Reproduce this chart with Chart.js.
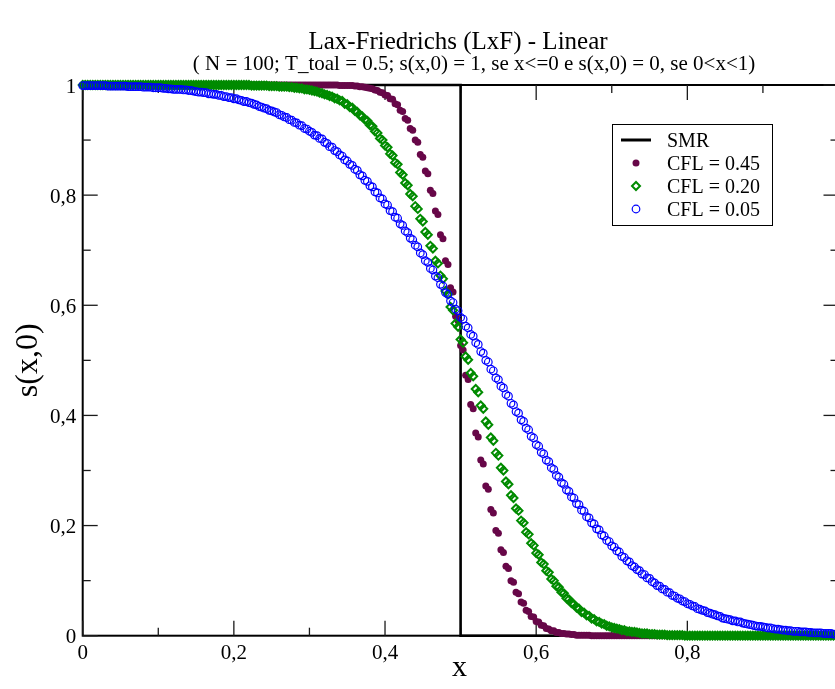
<!DOCTYPE html>
<html>
<head>
<meta charset="utf-8">
<title>Lax-Friedrichs (LxF) - Linear</title>
<script src="https://cdn.jsdelivr.net/npm/chart.js@4.4.1/dist/chart.umd.min.js"></script>
<style>
  html, body { margin: 0; padding: 0; background: #fff; overflow: hidden; }
  #wrap { width: 845px; height: 689px; }
</style>
</head>
<body>
<div id="wrap"><canvas id="chart" width="845" height="689"></canvas></div>
<script>
// Mesh: 301 nodes on [0, 1]
const NODES = 301;
const DX = 1 / 300;
const gridX = Array.from({ length: NODES }, (_, i) => i * DX);

// Exact solution (SMR): shifted step
const smrX = [0, 0.5, 0.5, 1];
const smrY = [1, 1, 0, 0];

// Lax-Friedrichs, CFL = 0.45
const cfl045 = [
  1,1,1,1,1,1,1,1,1,1,
  1,1,1,1,1,1,1,1,1,1,
  1,1,1,1,1,1,1,1,1,1,
  1,1,1,1,1,1,1,1,1,1,
  1,1,1,1,1,1,1,1,1,1,
  1,1,1,1,1,1,1,1,1,1,
  1,1,1,1,1,1,1,1,1,1,
  1,1,1,1,1,1,1,1,1,1,
  1,1,1,1,1,1,1,1,1,1,
  1,1,1,1,1,1,1,1,1,1,
  1,1,.999,.999,.999,.999,.999,.999,.998,.998,
  .997,.997,.996,.995,.994,.993,.991,.990,.987,.986,
  .982,.981,.975,.974,.966,.964,.954,.952,.939,.936,
  .921,.918,.900,.896,.874,.869,.844,.839,.809,.803,
  .771,.765,.728,.721,.681,.674,.632,.624,.580,.572,
  .527,.519,.473,.465,.420,.412,.368,.361,.319,.312,
  .272,.266,.229,.223,.191,.186,.156,.151,.126,.122,
  .100,.097,.079,.076,.061,.059,.046,.044,.035,.034,
  .026,.025,.019,.018,.013,.012,.009,.009,.006,.006,
  .004,.004,.003,.003,.002,.002,.001,.001,.001,.001,
  .001,.001,
  0,0,0,0,0,0,0,0,0,0,
  0,0,0,0,0,0,0,0,0,0,
  0,0,0,0,0,0,0,0,0,0,
  0,0,0,0,0,0,0,0,0,0,
  0,0,0,0,0,0,0,0,0,0,
  0,0,0,0,0,0,0,0,0,0,
  0,0,0,0,0,0,0,0,0,0,
  0,0,0,0,0,0,0,0,0,0,
  0,0,0,0,0,0,0,0,0,0,
  0,0,0,0,0,0,0,0,0
];

// Lax-Friedrichs, CFL = 0.20
const cfl020 = [
  1,1,1,1,1,1,1,1,1,1,
  1,1,1,1,1,1,1,1,1,1,
  1,1,1,1,1,1,1,1,1,1,
  1,1,1,1,1,1,1,1,1,1,
  1,1,1,1,1,1,1,1,1,1,
  1,1,1,1,1,1,1,1,1,1,
  1,1,1,1,
  1,1,1,.999,.999,.999,.999,.999,.999,.999,
  .998,.998,.998,.998,.997,.997,.997,.997,.996,.996,
  .995,.995,.994,.994,.992,.992,.991,.990,.989,.988,
  .986,.985,.983,.982,.980,.979,.976,.975,.972,.971,
  .966,.965,.960,.959,.953,.951,.945,.943,.937,.935,
  .927,.925,.916,.913,.903,.900,.890,.887,.875,.872,
  .859,.856,.841,.837,.822,.818,.802,.798,.780,.775,
  .757,.752,.733,.728,.708,.703,.681,.676,.654,.648,
  .626,.620,.597,.591,.567,.561,.538,.532,.507,.501,
  .477,.471,.448,.442,.418,.412,.389,.383,.360,.354,
  .332,.327,.305,.300,.280,.275,.255,.250,.231,.227,
  .209,.205,.188,.184,.168,.164,.150,.147,.133,.130,
  .118,.115,.103,.100,.090,.088,.079,.077,.068,.066,
  .059,.057,.051,.049,.043,.042,.037,.036,.031,.030,
  .026,.025,.022,.021,.018,.017,.015,.014,.013,.012,
  .010,.010,.008,.008,.007,.007,.006,.005,.004,.004,
  .004,.003,.003,.003,.002,.002,.002,.002,.001,.001,
  .001,.001,.001,.001,.001,0,
  0,0,0,0,0,0,0,0,0,0,
  0,0,0,0,0,0,0,0,0,0,
  0,0,0,0,0,0,0,0,0,0,
  0,0,0,0,0,0,0,0,0,0,
  0,0,0,0,0,0,0,0,0,0,
  0,0,0,0,0,0,0,0,0,0,
  0
];

// Lax-Friedrichs, CFL = 0.05
const cfl005 = [
  .999,.999,.999,.999,.999,.999,.999,.999,.999,.999,
  .998,.998,.998,.998,.998,.998,.998,.998,.997,.997,
  .997,.997,.997,.997,.996,.996,.996,.996,.995,.995,
  .995,.995,.994,.994,.993,.993,.992,.992,.992,.992,
  .991,.991,.990,.990,.989,.988,.987,.987,.986,.986,
  .984,.984,.983,.983,.981,.981,.979,.979,.977,.977,
  .975,.975,.973,.972,.970,.970,.968,.967,.965,.964,
  .961,.960,.958,.957,.954,.953,.951,.950,.946,.945,
  .942,.941,.937,.936,.932,.931,.927,.926,.921,.920,
  .916,.914,.909,.908,.903,.902,.896,.894,.888,.887,
  .881,.879,.873,.871,.864,.862,.856,.854,.847,.845,
  .837,.835,.827,.825,.817,.815,.806,.804,.795,.793,
  .784,.782,.772,.770,.760,.758,.748,.745,.735,.732,
  .722,.719,.709,.706,.695,.692,.681,.678,.667,.664,
  .653,.650,.638,.635,.623,.620,.608,.605,.593,.590,
  .578,.575,.562,.559,.547,.544,.532,.529,.516,.513,
  .500,.497,.484,.481,.468,.465,.453,.450,.438,.435,
  .422,.419,.407,.404,.392,.389,.377,.374,.362,.359,
  .347,.344,.333,.330,.319,.316,.305,.302,.291,.288,
  .278,.275,.265,.262,.252,.250,.240,.238,.228,.226,
  .216,.214,.205,.203,.194,.192,.183,.181,.173,.171,
  .163,.161,.154,.152,.144,.142,.136,.134,.127,.125,
  .120,.118,.112,.111,.105,.104,.098,.096,.091,.090,
  .085,.084,.079,.078,.073,.072,.068,.067,.063,.062,
  .058,.057,.054,.053,.049,.048,.046,.045,.042,.041,
  .039,.038,.036,.035,.032,.031,.030,.029,.027,.027,
  .025,.025,.023,.022,.021,.020,.019,.018,.017,.017,
  .016,.015,.014,.014,.013,.012,.012,.011,.010,.010,
  .009,.009,.008,.008,.008,.007,.007,.007,.006,.006,
  .005,.005,.005,.005,.004,.004,.004,.004,.003,.003,
  .003
];

// Axis ticks
const majorTicks = [0, 0.2, 0.4, 0.6, 0.8, 1];
const minorTicks = [0.1, 0.3, 0.5, 0.7, 0.9];
const xTickLabels = ['0', '0,2', '0,4', '0,6', '0,8', '1'];
const yTickLabels = ['0', '0,2', '0,4', '0,6', '0,8', '1'];

// Texts
const titleText = 'Lax-Friedrichs (LxF) - Linear';
const subtitleText = '( N = 100; T_toal = 0.5; s(x,0) = 1, se x<=0 e s(x,0) = 0, se 0<x<1)';
const xTitle = 'x';
const yTitle = 's(x,0)';
const seriesNames = ['SMR', 'CFL = 0.45', 'CFL = 0.20', 'CFL = 0.05'];

const SERIF = '"Liberation Serif", "Times New Roman", Times, serif';
const MAROON = 'rgb(103,7,72)';
const GREEN = 'rgb(0,139,0)';
const BLUE = 'rgb(0,0,255)';

const toPoints = (xs, ys) => ys.map((y, i) => ({ x: xs[i], y }));

const datasets = [
  {
    label: seriesNames[0],
    data: toPoints(smrX, smrY),
    showLine: true,
    borderColor: '#000',
    borderWidth: 2.6,
    pointRadius: 0,
    order: 4,
    clip: false
  },
  {
    label: seriesNames[1],
    data: toPoints(gridX, cfl045),
    pointStyle: 'circle',
    pointRadius: 3.5,
    backgroundColor: MAROON,
    borderColor: MAROON,
    borderWidth: 0,
    order: 3,
    clip: false
  },
  {
    label: seriesNames[2],
    data: toPoints(gridX, cfl020),
    pointStyle: 'rectRot',
    pointRadius: 4,
    backgroundColor: 'rgba(0,0,0,0)',
    borderColor: GREEN,
    borderWidth: 2,
    order: 2,
    clip: false
  },
  {
    label: seriesNames[3],
    data: toPoints(gridX, cfl005),
    pointStyle: 'circle',
    pointRadius: 3.8,
    backgroundColor: 'rgba(0,0,0,0)',
    borderColor: BLUE,
    borderWidth: 1.2,
    order: 1,
    clip: false
  }
];

function line(ctx, x1, y1, x2, y2) {
  ctx.beginPath();
  ctx.moveTo(x1, y1);
  ctx.lineTo(x2, y2);
  ctx.stroke();
}

// Frame with inward ticks on all four sides, labels, titles and legend box
const decorations = {
  id: 'decorations',
  beforeDraw(chart) {
    const ctx = chart.ctx;
    ctx.save();
    ctx.fillStyle = '#fff';
    ctx.fillRect(0, 0, chart.width, chart.height);
    ctx.restore();
  },
  beforeDatasetsDraw(chart) {
    const { ctx, chartArea: a, scales: { x, y } } = chart;
    ctx.save();
    ctx.strokeStyle = '#000';
    ctx.lineWidth = 2;
    ctx.strokeRect(a.left, a.top, a.right - a.left, a.bottom - a.top);

    ctx.strokeStyle = '#1a1a1a';
    ctx.lineWidth = 1.3;
    const drawTicks = (values, len) => {
      values.forEach(v => {
        const px = x.getPixelForValue(v);
        line(ctx, px, a.bottom, px, a.bottom - len);
        line(ctx, px, a.top, px, a.top + len);
        const py = y.getPixelForValue(v);
        line(ctx, a.left, py, a.left + len, py);
        line(ctx, a.right, py, a.right - len, py);
      });
    };
    drawTicks(majorTicks, 15);
    drawTicks(minorTicks, 8);
    ctx.restore();
  },
  afterDatasetsDraw(chart) {
    const { ctx, chartArea: a, scales: { x, y } } = chart;
    ctx.save();
    ctx.fillStyle = '#000';

    // tick labels
    ctx.font = '21px ' + SERIF;
    ctx.textAlign = 'center';
    ctx.textBaseline = 'alphabetic';
    majorTicks.forEach((v, i) => {
      ctx.fillText(xTickLabels[i], x.getPixelForValue(v), a.bottom + 23.5);
    });
    ctx.textAlign = 'right';
    majorTicks.forEach((v, i) => {
      ctx.fillText(yTickLabels[i], a.left - 6.5, y.getPixelForValue(v) + 7.5);
    });

    // axis titles
    ctx.textAlign = 'center';
    ctx.font = '30px ' + SERIF;
    ctx.fillText(xTitle, (a.left + a.right) / 2 - 1, 676);
    ctx.save();
    ctx.translate(37, (a.top + a.bottom) / 2);
    ctx.rotate(-Math.PI / 2);
    ctx.font = '32px ' + SERIF;
    ctx.fillText(yTitle, 0, 0);
    ctx.restore();

    // title and subtitle
    ctx.font = '25px ' + SERIF;
    ctx.fillText(titleText, 458, 49);
    ctx.font = '21px ' + SERIF;
    ctx.fillText(subtitleText, 474, 70);

    // legend
    const box = { left: 612, top: 124, width: 160, height: 101 };
    ctx.fillStyle = '#fff';
    ctx.fillRect(box.left, box.top, box.width, box.height);
    ctx.strokeStyle = '#000';
    ctx.lineWidth = 1;
    ctx.strokeRect(box.left + 0.5, box.top + 0.5, box.width, box.height);

    const rowY = [140, 163, 186, 209];
    const markX = 636;
    const textX = 667;

    ctx.strokeStyle = '#000';
    ctx.lineWidth = 3;
    line(ctx, 621, rowY[0], 651, rowY[0]);

    const drawMark = (ds, yy) => {
      ctx.fillStyle = ds.backgroundColor;
      ctx.strokeStyle = ds.borderColor;
      ctx.lineWidth = ds.borderWidth;
      Chart.helpers.drawPoint(ctx, {
        pointStyle: ds.pointStyle,
        radius: ds.pointRadius,
        rotation: 0,
        borderWidth: ds.borderWidth
      }, markX, yy);
    };
    drawMark(datasets[1], rowY[1]);
    drawMark(datasets[2], rowY[2]);
    drawMark(datasets[3], rowY[3]);

    ctx.fillStyle = '#000';
    ctx.textAlign = 'left';
    ctx.font = '20px ' + SERIF;
    seriesNames.forEach((name, i) => ctx.fillText(name, textX, rowY[i] + 7));
    ctx.restore();
  }
};

new Chart(document.getElementById('chart'), {
  type: 'scatter',
  data: { datasets },
  options: {
    responsive: false,
    animation: false,
    events: [],
    layout: { padding: { left: 82.7, top: 85, right: 6.5, bottom: 53.3 } },
    plugins: {
      legend: { display: false },
      tooltip: { enabled: false },
      title: { display: false }
    },
    scales: {
      x: { type: 'linear', min: 0, max: 1, display: false },
      y: { type: 'linear', min: 0, max: 1, display: false }
    }
  },
  plugins: [decorations]
});
</script>
</body>
</html>
